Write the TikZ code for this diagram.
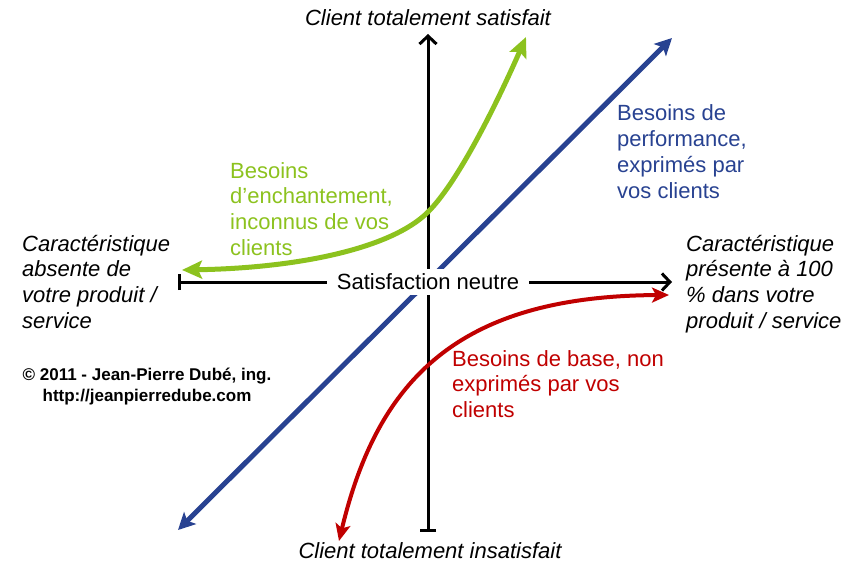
\documentclass[tikz,border=0pt]{standalone}
\usepackage{fontspec}
\setmainfont{Liberation Sans}
\usetikzlibrary{arrows.meta}
\definecolor{kgreen}{RGB}{140,194,30}
\definecolor{kblue}{RGB}{40,66,145}
\definecolor{kred}{RGB}{192,0,0}
\begin{document}
\begin{tikzpicture}[x=1pt,y=-1pt,
  lbl/.style={font=\fontsize{22}{25.7}\selectfont, inner sep=0pt, align=left, anchor=base west},
  axlbl/.style={font=\fontsize{22}{25.7}\selectfont\itshape, inner sep=0pt, align=left, anchor=base west},
  axis/.style={line width=3pt, black},
]
\useasboundingbox (0,0) rectangle (848,564);
% coordinates
\coordinate (vbot) at (428,532);
\coordinate (vtop) at (428,34);
\coordinate (hl) at (178,282);
\coordinate (hr) at (672,282);
\coordinate (bA) at (178,530);
\coordinate (bB) at (672,38);
\coordinate (gA) at (182,270);
\coordinate (gM) at (428,212);
\coordinate (gB) at (526,37);
\coordinate (rA) at (339,541);
\coordinate (rB) at (669,295);
% axes
\draw[axis, {Bar[width=16pt]}-{Straight Barb[length=8pt,width=17pt]}] (vbot) -- (vtop);
\draw[axis, {Bar[width=16pt]}-{Straight Barb[length=8pt,width=17pt]}] (hl) -- (hr);
% blue
\draw[kblue, line width=5pt, {Stealth[length=17pt,width=17pt,inset=4pt]}-{Stealth[length=17pt,width=17pt,inset=4pt]}] (bA) -- (bB);
% green
\draw[kgreen, line width=5pt, {Stealth[length=20pt,width=18pt,inset=4pt]}-{Stealth[length=20pt,width=18pt,inset=4pt]}] (gA) .. controls (300,268) and (392,248) .. (gM) .. controls (462,178) and (505,85) .. (gB);
% red
\draw[kred, line width=4pt, {Stealth[length=17pt,width=15pt,inset=4pt]}-{Stealth[length=17pt,width=15pt,inset=4pt]}] (rA) .. controls (378,378) and (460,296) .. (rB);
% neutral label
\node[fill=white, inner xsep=10pt, inner ysep=5pt, font=\fontsize{22}{25.7}\selectfont] (neutre) at (428,282) {Satisfaction neutre};
% axis labels
\node[axlbl, anchor=base] (top) at (428,26) {Client totalement satisfait};
\node[axlbl, anchor=base] (bot) at (430,558) {Client totalement insatisfait};
\node[axlbl] (left) at (22,328.1) {Caractéristique\\absente de\\votre produit /\\service};
\node[axlbl] (right) at (686,328.1) {Caractéristique\\présente à 100\\\% dans votre\\produit / service};
% need labels
\node[lbl, text=kgreen] (enc) at (230,255.1) {Besoins\\d’enchantement,\\inconnus de vos\\clients};
\node[lbl, text=kblue] (perf) at (617,198.1) {Besoins de\\performance,\\exprimés par\\vos clients};
\node[lbl, text=kred] (base) at (452,417.4) {Besoins de base, non\\exprimés par vos\\clients};
% copyright
\node[font=\fontsize{17}{21}\selectfont\bfseries, inner sep=0pt, align=center, anchor=base] (copy) at (147,401) {© 2011 - Jean-Pierre Dubé, ing.\\http://jeanpierredube.com};
\end{tikzpicture}
\end{document}
